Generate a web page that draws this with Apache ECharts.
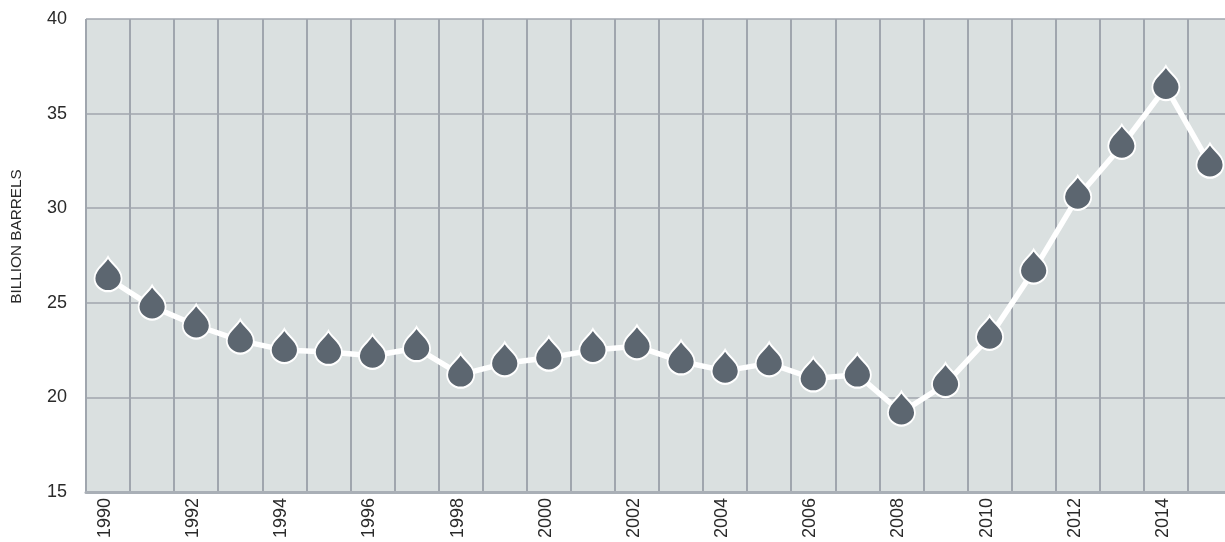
<!DOCTYPE html>
<html><head><meta charset="utf-8">
<style>html,body{margin:0;padding:0;background:#fff}#c{width:1225px;height:542px}</style>
<script src="https://cdn.jsdelivr.net/npm/echarts@6/dist/echarts.min.js"></script>
</head><body><div id="c"></div>
<script>
const years = ['1990','1991','1992','1993','1994','1995','1996','1997','1998','1999','2000','2001','2002','2003','2004','2005','2006','2007','2008','2009','2010','2011','2012','2013','2014','2015'];
const reserves = [26.3,24.8,23.8,23.0,22.5,22.4,22.2,22.6,21.2,21.8,22.1,22.5,22.7,21.9,21.4,21.8,21.0,21.2,19.2,20.7,23.2,26.7,30.6,33.3,36.4,32.3];
const yTitle = 'BILLION BARRELS';
const drop = 'path://M12 0C15 6 24 10.5 24 18.5C24 24.6 18.6 30 12 30C5.4 30 0 24.6 0 18.5C0 10.5 9 6 12 0Z';
const chart = echarts.init(document.getElementById('c'), null, {renderer:'canvas'});
const font = '"Liberation Sans", Arial, sans-serif';
chart.setOption({
  animation:false,
  grid:{left:86, top:19, width:1146, height:473, backgroundColor:'#dae0e0', show:true, borderWidth:0, outerBoundsMode:'none', containLabel:false},
  xAxis:{type:'category', data:years, boundaryGap:true,
    axisLine:{show:true, lineStyle:{color:'#a9afb6', width:3}},
    axisTick:{show:false},
    splitLine:{show:true, interval:0, lineStyle:{color:'#a0a6ae', width:2}},
    axisLabel:{interval:1, rotate:90, color:'#2a2a2a', fontSize:18, fontFamily:font, margin:6, verticalAlign:'bottom', lineHeight:6}},
  yAxis:{type:'value', min:15, max:40, interval:5,
    name:yTitle, nameLocation:'middle', nameGap:62, nameRotate:90,
    nameTextStyle:{color:'#2a2a2a', fontSize:15.3, fontFamily:font, padding:[0,0,0,38]},
    axisLine:{show:false}, axisTick:{show:false},
    splitLine:{show:true, lineStyle:{color:'#a0a6ae', width:1.5}},
    axisLabel:{color:'#2a2a2a', fontSize:18, fontFamily:font, margin:19}},
  series:[{type:'line', data:reserves, clip:false,
    lineStyle:{color:'#fff', width:5.5},
    symbol:drop, symbolSize:[27,34], symbolKeepAspect:false, symbolOffset:[0,-4],
    showAllSymbol:true,
    itemStyle:{color:'#5c6670', borderColor:'#fff', borderWidth:2, opacity:1}}]
});
</script></body></html>
